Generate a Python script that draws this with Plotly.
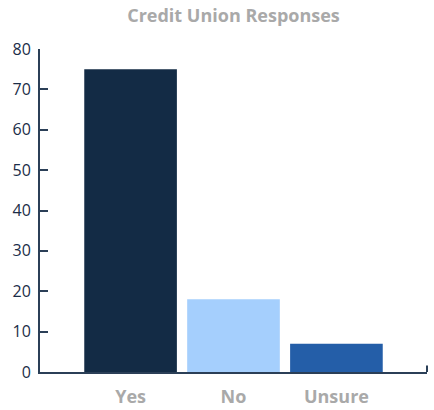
import plotly.graph_objects as go

# Survey answers and their counts
categories = ["Yes", "No", "Unsure"]
responses = [75, 18, 7]
bar_colors = ["#132b45", "#a5cffd", "#245ea8"]
y_ticks = [0, 10, 20, 30, 40, 50, 60, 70, 80]

AXIS = "#2b3f57"
LABEL_GREY = "#a9a9a9"

fig = go.Figure(
    go.Bar(
        x=categories,
        y=responses,
        marker=dict(color=bar_colors, line=dict(width=0)),
        width=0.9,
        hoverinfo="x+y",
    )
)

fig.update_layout(
    width=434,
    height=410,
    margin=dict(l=40, r=7, t=49, b=38),
    paper_bgcolor="white",
    plot_bgcolor="white",
    showlegend=False,
    title=dict(
        text="Credit Union Responses",
        x=0.5,
        xref="paper",
        xanchor="center",
        y=1 - 16 / 410,
        yanchor="middle",
        font=dict(family="Open Sans", size=18, color=LABEL_GREY, weight=700),
    ),
    xaxis=dict(
        range=[-0.88, 2.88],
        showline=True,
        linecolor=AXIS,
        linewidth=2,
        ticks="",
        showgrid=False,
        zeroline=False,
        automargin=False,
        ticklabelstandoff=7,
        tickfont=dict(family="Open Sans", size=18, color=LABEL_GREY, weight=700),
        fixedrange=True,
    ),
    yaxis=dict(
        range=[0, 80],
        tickvals=y_ticks,
        showline=True,
        linecolor=AXIS,
        linewidth=2,
        ticks="inside",
        ticklen=8,
        tickwidth=2,
        tickcolor=AXIS,
        showgrid=False,
        zeroline=False,
        automargin=False,
        ticklabelstandoff=4,
        tickfont=dict(family="Open Sans", size=16, color="#1b2d48"),
        fixedrange=True,
    ),
    # outer tick at the right end of the category axis
    shapes=[
        dict(
            type="line",
            xref="paper",
            yref="paper",
            x0=1,
            x1=1,
            y0=0,
            y1=0.02,
            line=dict(color=AXIS, width=2),
        )
    ],
)

fig.write_html("out.html")
